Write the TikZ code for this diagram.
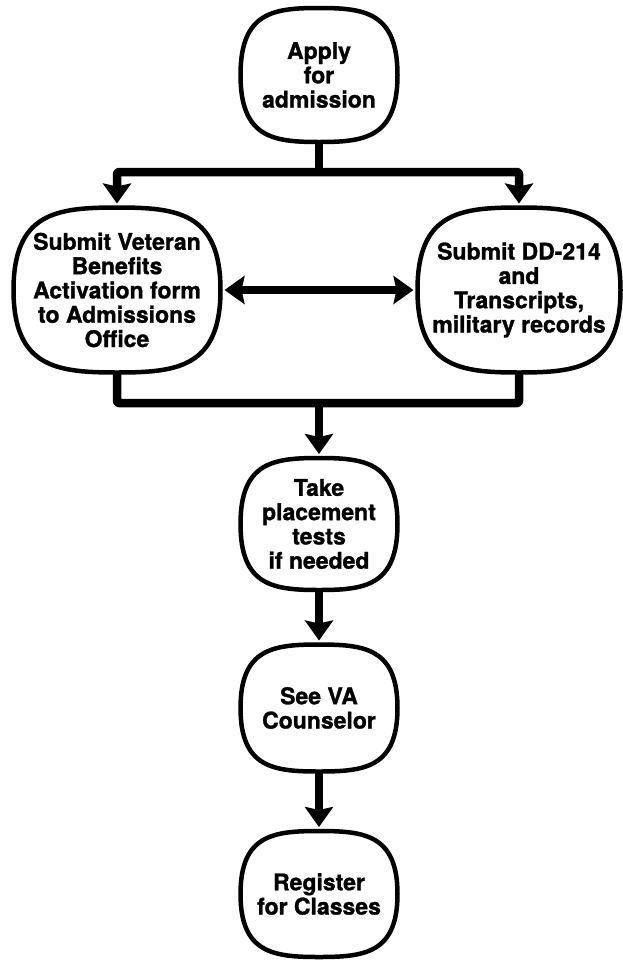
\documentclass[tikz,border=0pt]{standalone}
\usepackage{fontspec}
\setmainfont{TeX Gyre Heros}[BoldFeatures={FakeBold=1.2}]
\usepackage{tikz}
\usetikzlibrary{calc,arrows.meta}
\tikzstyle{flowChart} = [x = 1pt, y = -1pt, >={Stealth[width=28pt, length=20pt, inset=3pt]}]
\tikzstyle{stepText} = [align=center, inner sep=0pt, outer sep=0pt, font=\fontsize{23}{24.3}\selectfont\bfseries]
\tikzstyle{boxLine} = [color=black, line width=4.5pt, line join=round]
\tikzstyle{flowLine} = [color=black, line width=8.5pt, line join=round, rounded corners=2pt]
\tikzstyle{flowArrow} = [flowLine, ->, shorten >=4pt]
\newcommand{\tvOutline}[1]{\draw [boxLine] (#1.west)
  .. controls ($(#1.west)!.94!(#1.north west)$) and ($(#1.north)!.58!(#1.north west)$) .. (#1.north)
  .. controls ($(#1.north)!.58!(#1.north east)$) and ($(#1.east)!.94!(#1.north east)$) .. (#1.east)
  .. controls ($(#1.east)!.94!(#1.south east)$) and ($(#1.south)!.58!(#1.south east)$) .. (#1.south)
  .. controls ($(#1.south)!.58!(#1.south west)$) and ($(#1.west)!.94!(#1.south west)$) .. (#1.west) -- cycle;}
\newcommand{\stepBox}[6]{\node [stepText, minimum width=#4pt, minimum height=#5pt] (#1) at (#2, #3) {#6}; \tvOutline{#1}}

\begin{document}
\begin{tikzpicture}[flowChart]
  \useasboundingbox (0,0) rectangle (623,962);
  \stepBox{apply}{319}{75}{157}{134}{Apply\\for\\admission}
  \stepBox{veteran}{117}{290}{207}{165}{Submit Veteran\\Benefits\\Activation form\\to Admissions\\Office}
  \stepBox{records}{519}{290}{203}{165}{Submit DD-214\\and\\Transcripts,\\military records}
  \stepBox{tests}{319}{524}{157}{132}{Take\\placement\\tests\\if needed}
  \stepBox{counselor}{319}{708}{157}{127}{See VA\\Counselor}
  \stepBox{register}{319}{894}{157}{126}{Register\\for Classes}

  \coordinate (forkTop) at (319,172);
  \coordinate (joinBottom) at (319,403);
  \draw [flowLine] (apply.south) -- (forkTop);
  \draw [flowArrow] (forkTop) -| (veteran.north);
  \draw [flowArrow] (forkTop) -| (records.north);
  \draw [flowArrow, <->, shorten <=4pt] (veteran.east) -- (records.west);
  \draw [flowLine] (veteran.south) |- (joinBottom);
  \draw [flowLine] (records.south) |- (joinBottom);
  \draw [flowArrow] (joinBottom) -- (tests.north);
  \draw [flowArrow] (tests.south) -- (counselor.north);
  \draw [flowArrow] (counselor.south) -- (register.north);
\end{tikzpicture}
\end{document}
